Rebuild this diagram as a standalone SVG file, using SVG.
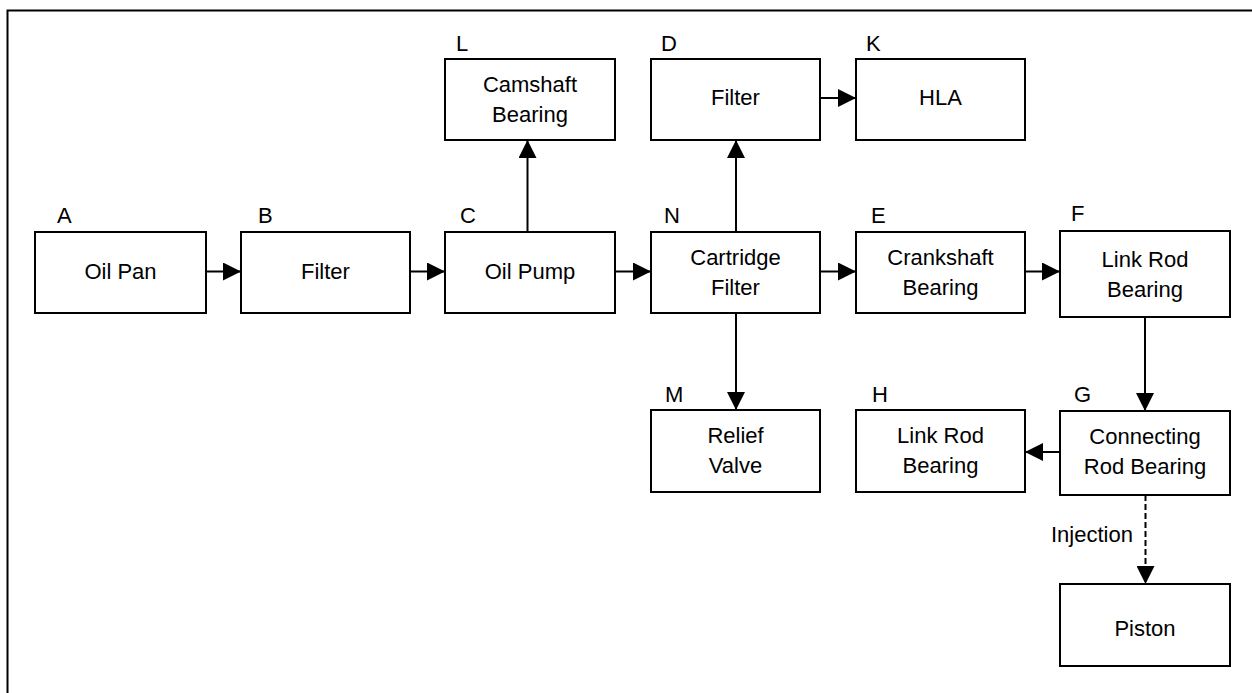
<svg xmlns="http://www.w3.org/2000/svg" width="1252" height="693" viewBox="0 0 1252 693">
<style>
.box{fill:#fff;stroke:#000;stroke-width:2}
.t{font-family:"Liberation Sans",Arial,sans-serif;font-size:22px;fill:#000}
.c{text-anchor:middle}
.ln{fill:none;stroke:#000;stroke-width:2}
.dash{stroke-dasharray:6,3}
</style>
<defs>
<marker id="ah" markerUnits="userSpaceOnUse" markerWidth="18" markerHeight="18" refX="18" refY="9" orient="auto" viewBox="0 0 18 18">
<path d="M0,0 L18,9 L0,18 z" fill="#000"/>
</marker>
</defs>
<rect width="1252" height="693" fill="#fff"/>
<path d="M7.5,693 V10.5 H1252" fill="none" stroke="#000" stroke-width="2"/>
<g id="connectors">
<line class="ln" x1="206" y1="271.5" x2="241" y2="271.5" marker-end="url(#ah)"/>
<line class="ln" x1="410" y1="271.5" x2="445" y2="271.5" marker-end="url(#ah)"/>
<line class="ln" x1="615" y1="271.5" x2="651" y2="271.5" marker-end="url(#ah)"/>
<line class="ln" x1="820" y1="271.5" x2="856" y2="271.5" marker-end="url(#ah)"/>
<line class="ln" x1="1025" y1="271.5" x2="1060" y2="271.5" marker-end="url(#ah)"/>
<line class="ln" x1="820" y1="98" x2="856" y2="98" marker-end="url(#ah)"/>
<line class="ln" x1="527.5" y1="232" x2="527.5" y2="140" marker-end="url(#ah)"/>
<line class="ln" x1="736" y1="232" x2="736" y2="140" marker-end="url(#ah)"/>
<line class="ln" x1="736" y1="313" x2="736" y2="410" marker-end="url(#ah)"/>
<line class="ln" x1="1145" y1="317" x2="1145" y2="411" marker-end="url(#ah)"/>
<line class="ln" x1="1060" y1="452" x2="1025" y2="452" marker-end="url(#ah)"/>
<line class="ln dash" x1="1145.5" y1="495" x2="1145.5" y2="584" marker-end="url(#ah)"/>
<text class="t" x="1051" y="542">Injection</text>
</g>
<g id="A"><rect class="box" x="35" y="232" width="171" height="81"/><text class="t" x="57" y="223">A</text><text class="t c" x="120.5" y="279">Oil Pan</text></g>
<g id="B"><rect class="box" x="241" y="232" width="169" height="81"/><text class="t" x="258" y="223">B</text><text class="t c" x="325.5" y="279">Filter</text></g>
<g id="C"><rect class="box" x="445" y="232" width="170" height="81"/><text class="t" x="460" y="223">C</text><text class="t c" x="530" y="279">Oil Pump</text></g>
<g id="N"><rect class="box" x="651" y="232" width="169" height="81"/><text class="t" x="664" y="223">N</text><text class="t c" x="735.5" y="265">Cartridge</text><text class="t c" x="735.5" y="295">Filter</text></g>
<g id="E"><rect class="box" x="856" y="232" width="169" height="81"/><text class="t" x="871" y="223">E</text><text class="t c" x="940.5" y="265">Crankshaft</text><text class="t c" x="940.5" y="295">Bearing</text></g>
<g id="F"><rect class="box" x="1060" y="231" width="170" height="86"/><text class="t" x="1071" y="221">F</text><text class="t c" x="1145" y="267">Link Rod</text><text class="t c" x="1145" y="297">Bearing</text></g>
<g id="L"><rect class="box" x="445" y="59" width="170" height="81"/><text class="t" x="456" y="51">L</text><text class="t c" x="530" y="92">Camshaft</text><text class="t c" x="530" y="122">Bearing</text></g>
<g id="D"><rect class="box" x="651" y="59" width="169" height="81"/><text class="t" x="661" y="51">D</text><text class="t c" x="735.5" y="105">Filter</text></g>
<g id="K"><rect class="box" x="856" y="59" width="169" height="81"/><text class="t" x="866" y="51">K</text><text class="t c" x="940.5" y="105">HLA</text></g>
<g id="M"><rect class="box" x="651" y="410" width="169" height="82"/><text class="t" x="665" y="402">M</text><text class="t c" x="735.5" y="443">Relief</text><text class="t c" x="735.5" y="473">Valve</text></g>
<g id="H"><rect class="box" x="856" y="410" width="169" height="82"/><text class="t" x="872" y="402">H</text><text class="t c" x="940.5" y="443">Link Rod</text><text class="t c" x="940.5" y="473">Bearing</text></g>
<g id="G"><rect class="box" x="1060" y="411" width="170" height="84"/><text class="t" x="1074" y="402">G</text><text class="t c" x="1145" y="444">Connecting</text><text class="t c" x="1145" y="474">Rod Bearing</text></g>
<g id="P"><rect class="box" x="1060" y="584" width="170" height="82"/><text class="t c" x="1145" y="636">Piston</text></g>
</svg>
